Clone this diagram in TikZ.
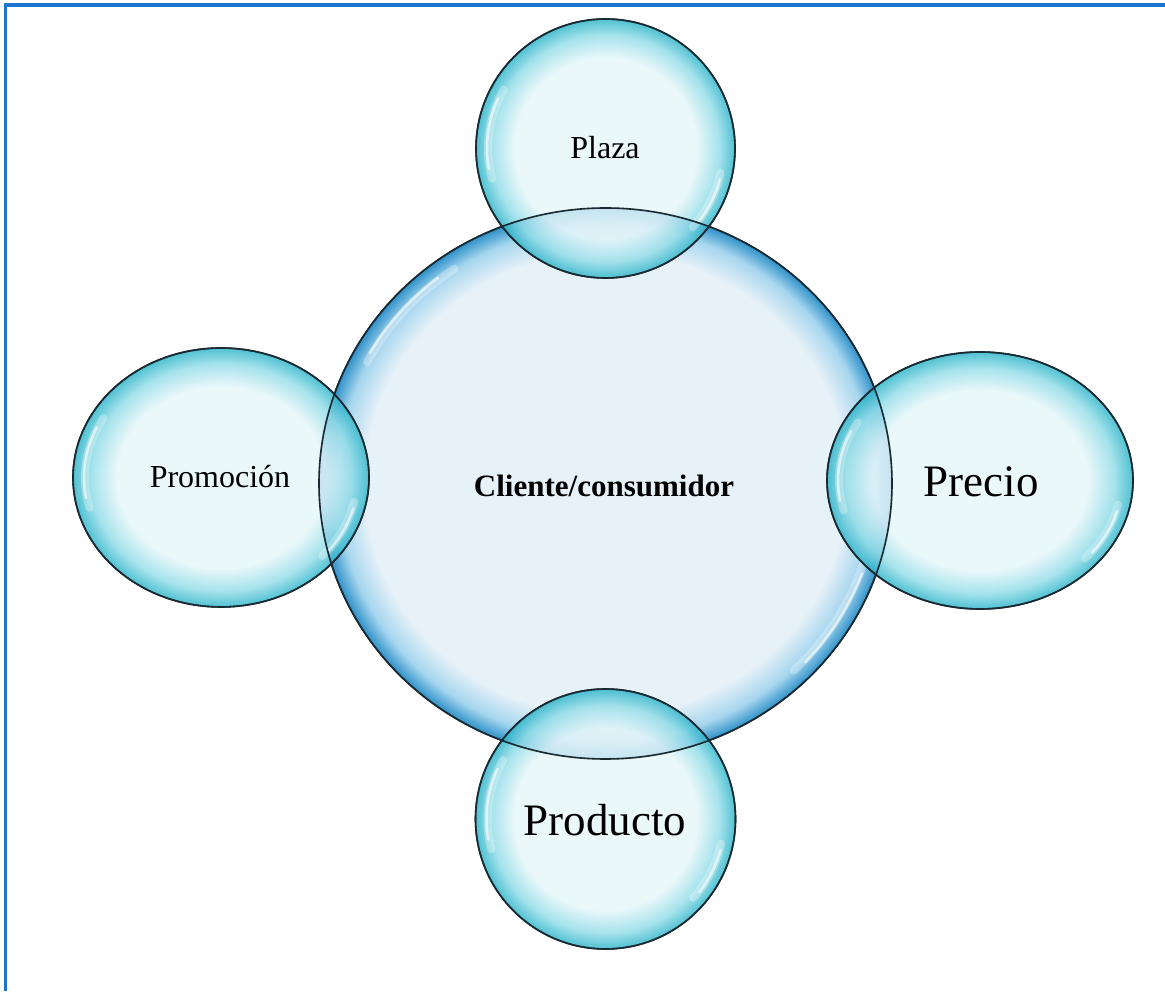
\documentclass[tikz,border=0pt]{standalone}
\usepackage{fontspec}
\setmainfont{Liberation Serif}
\usetikzlibrary{shapes.geometric}
\definecolor{cIn}{HTML}{E7F1F8}
\definecolor{cMid}{HTML}{A6D6EE}
\definecolor{cRim}{HTML}{2F91C9}
\definecolor{sIn}{HTML}{E6F6F9}
\definecolor{sMid}{HTML}{90DCE7}
\definecolor{sRim}{HTML}{2AB3C8}
\definecolor{outl}{HTML}{1A2A32}
\definecolor{frameblue}{HTML}{1B74D2}
\pgfdeclareradialshading{bubbleC}{\pgfpoint{0bp}{0bp}}{color(0bp)=(cIn); color(21bp)=(cIn); color(23.4bp)=(cMid); color(25bp)=(cRim); color(50bp)=(cRim)}
\pgfdeclareradialshading{bubbleS}{\pgfpoint{0bp}{0bp}}{color(0bp)=(sIn); color(17.5bp)=(sIn); color(22bp)=(sMid); color(25bp)=(sRim); color(50bp)=(sRim)}
\tikzset{
  bubC/.style={ellipse, shading=bubbleC, draw=outl, line width=1.6pt, inner sep=0pt},
  bubS/.style={ellipse, shading=bubbleS, fill opacity=0.82, text opacity=1, draw=outl, draw opacity=1, line width=1.6pt, inner sep=0pt},
  rimline/.style={draw=outl, line width=1.6pt},
  hlsoft/.style={draw=white, line width=8pt, line cap=round, opacity=0.3},
  hlhard/.style={draw=white, line width=2.5pt, line cap=round, opacity=0.6},
  smallfont/.style={font=\fontsize{32}{38}\selectfont},
  bigfont/.style={font=\fontsize{45}{54}\selectfont},
  boldfont/.style={font=\fontsize{31}{37}\selectfont\bfseries},
  frameline/.style={draw=frameblue, line width=3.2pt}
}
\begin{document}
\begin{tikzpicture}[x=1pt,y=1pt]
\useasboundingbox (0,0) rectangle (1165,991);
% frame (top and left edges)
\coordinate (fbl) at (5.5,0);
\coordinate (ftl) at (5.5,986);
\coordinate (ftr) at (1165,986);
\draw[frameline] (fbl) -- (ftl) -- (ftr);
% central bubble
\node[bubC, minimum width=573pt, minimum height=551pt] (cli) at (605.5,507.5) {};
\begin{scope}[shift={(cli.center)}]
  \draw[hlsoft] (152:270 and 259) arc[start angle=152, end angle=124, x radius=270, y radius=259];
  \draw[hlhard] (150:272 and 261) arc[start angle=150, end angle=128, x radius=272, y radius=261];
  \draw[hlsoft] (-18:271 and 260) arc[start angle=-18, end angle=-46, x radius=271, y radius=260];
  \draw[hlhard] (-20:273 and 262) arc[start angle=-20, end angle=-43, x radius=273, y radius=262];
\end{scope}
% small bubbles
\node[bubS, minimum width=259pt, minimum height=259pt] (plaza) at (605.5,842.5) {};
\node[bubS, minimum width=260pt, minimum height=260pt] (producto) at (605.5,172) {};
\node[bubS, minimum width=296pt, minimum height=259pt] (promo) at (221,513.5) {};
\node[bubS, minimum width=306pt, minimum height=257pt] (precio) at (980,510.5) {};
% highlights on small bubbles
\foreach \b/\rx/\ry in {plaza/129.5/129.5, producto/130/130, promo/148/129.5, precio/153/128.5}{
  \begin{scope}[shift={(\b.center)}]
    \draw[hlsoft] (195:\rx-12 and \ry-12) arc[start angle=195, end angle=150, x radius=\rx-12, y radius=\ry-12];
    \draw[hlhard] (190:\rx-11 and \ry-11) arc[start angle=190, end angle=155, x radius=\rx-11, y radius=\ry-11];
    \draw[hlsoft] (-12:\rx-12 and \ry-12) arc[start angle=-12, end angle=-42, x radius=\rx-12, y radius=\ry-12];
    \draw[hlhard] (-15:\rx-11 and \ry-11) arc[start angle=-15, end angle=-38, x radius=\rx-11, y radius=\ry-11];
  \end{scope}
}
% outlines on top
\draw[rimline] (cli.center) ellipse[x radius=286.5, y radius=275.5];
\draw[rimline] (plaza.center) circle[radius=129.5];
\draw[rimline] (producto.center) circle[radius=130];
\draw[rimline] (promo.center) ellipse[x radius=148, y radius=129.5];
\draw[rimline] (precio.center) ellipse[x radius=153, y radius=128.5];
% labels
\node[boldfont] (tcli) at (604,505) {Cliente/consumidor};
\node[smallfont] (tplaza) at (605,843) {Plaza};
\node[smallfont] (tpromo) at (220,514) {Promoción};
\node[bigfont] (tprecio) at (981,509) {Precio};
\node[bigfont] (tproducto) at (605,171) {Producto};
\end{tikzpicture}
\end{document}
